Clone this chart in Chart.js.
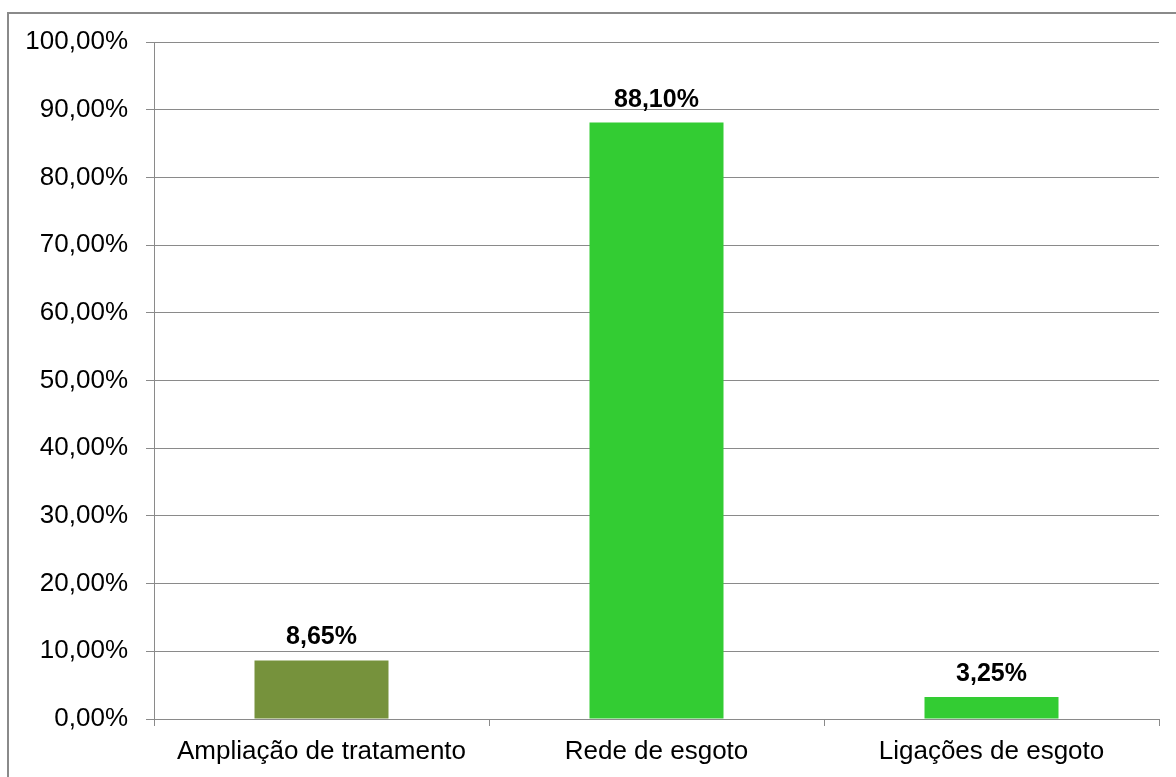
<!DOCTYPE html>
<html>
<head>
<meta charset="utf-8">
<script src="https://cdn.jsdelivr.net/npm/chart.js@4"></script>
<style>
html,body{margin:0;padding:0;background:#fff;}
#wrap{position:relative;width:1176px;height:777px;overflow:hidden;}
#frame{position:absolute;left:7px;top:12px;width:1200px;height:800px;border-left:2px solid #8a8a8a;border-top:2px solid #8a8a8a;box-sizing:border-box;}
canvas{position:absolute;left:0;top:0;}
</style>
</head>
<body>
<div id="wrap">
<div id="frame"></div>
<canvas id="c" width="1176" height="777"></canvas>
</div>
<script>
const categories = ["Ampliação de tratamento", "Rede de esgoto", "Ligações de esgoto"];
const values = [8.65, 88.10, 3.25];
const barColors = ["#76923C", "#33CC33", "#33CC33"];
const yTickMin = 0, yTickMax = 100, yTickStep = 10;

function fmt(v, dec) {
  return v.toFixed(dec).replace('.', ',') + '%';
}

const labelPlugin = {
  id: 'barLabels',
  afterDatasetsDraw(chart) {
    const ctx = chart.ctx;
    const meta = chart.getDatasetMeta(0);
    ctx.save();
    ctx.font = 'bold 25px "Liberation Sans", Arial, sans-serif';
    ctx.fillStyle = '#000';
    ctx.textAlign = 'center';
    ctx.textBaseline = 'alphabetic';
    meta.data.forEach((bar, i) => {
      ctx.fillText(fmt(values[i], 2), bar.x, bar.y - 16);
    });
    ctx.restore();
  }
};

new Chart(document.getElementById('c'), {
  type: 'bar',
  data: {
    labels: categories,
    datasets: [{
      data: values,
      backgroundColor: barColors,
      borderWidth: 0,
      categoryPercentage: 0.4,
      barPercentage: 1.0
    }]
  },
  options: {
    responsive: false,
    animation: false,
    devicePixelRatio: 1,
    layout: { padding: { left: 0, top: 42, right: 17, bottom: 0 } },
    plugins: { legend: { display: false }, tooltip: { enabled: false } },
    scales: {
      x: {
        grid: { display: true, drawOnChartArea: false, drawTicks: true, tickLength: 7, color: '#8a8a8a', offset: true },
        border: { display: true, color: '#8a8a8a', width: 1 },
        ticks: { color: '#000', font: { family: '"Liberation Sans", Arial, sans-serif', size: 26 }, padding: 10, maxRotation: 0, autoSkip: false },
        afterFit(s) { s.height = 58; }
      },
      y: {
        min: yTickMin, max: yTickMax,
        grid: { color: '#8a8a8a', tickLength: 8, drawTicks: true },
        border: { display: true, color: '#8a8a8a', width: 1 },
        ticks: {
          stepSize: yTickStep,
          color: '#000',
          font: { family: '"Liberation Sans", Arial, sans-serif', size: 26 },
          padding: 18,
          callback: (v) => fmt(v, 2)
        },
        afterFit(s) { s.width = 154; }
      }
    }
  },
  plugins: [labelPlugin]
});
</script>
</body>
</html>
